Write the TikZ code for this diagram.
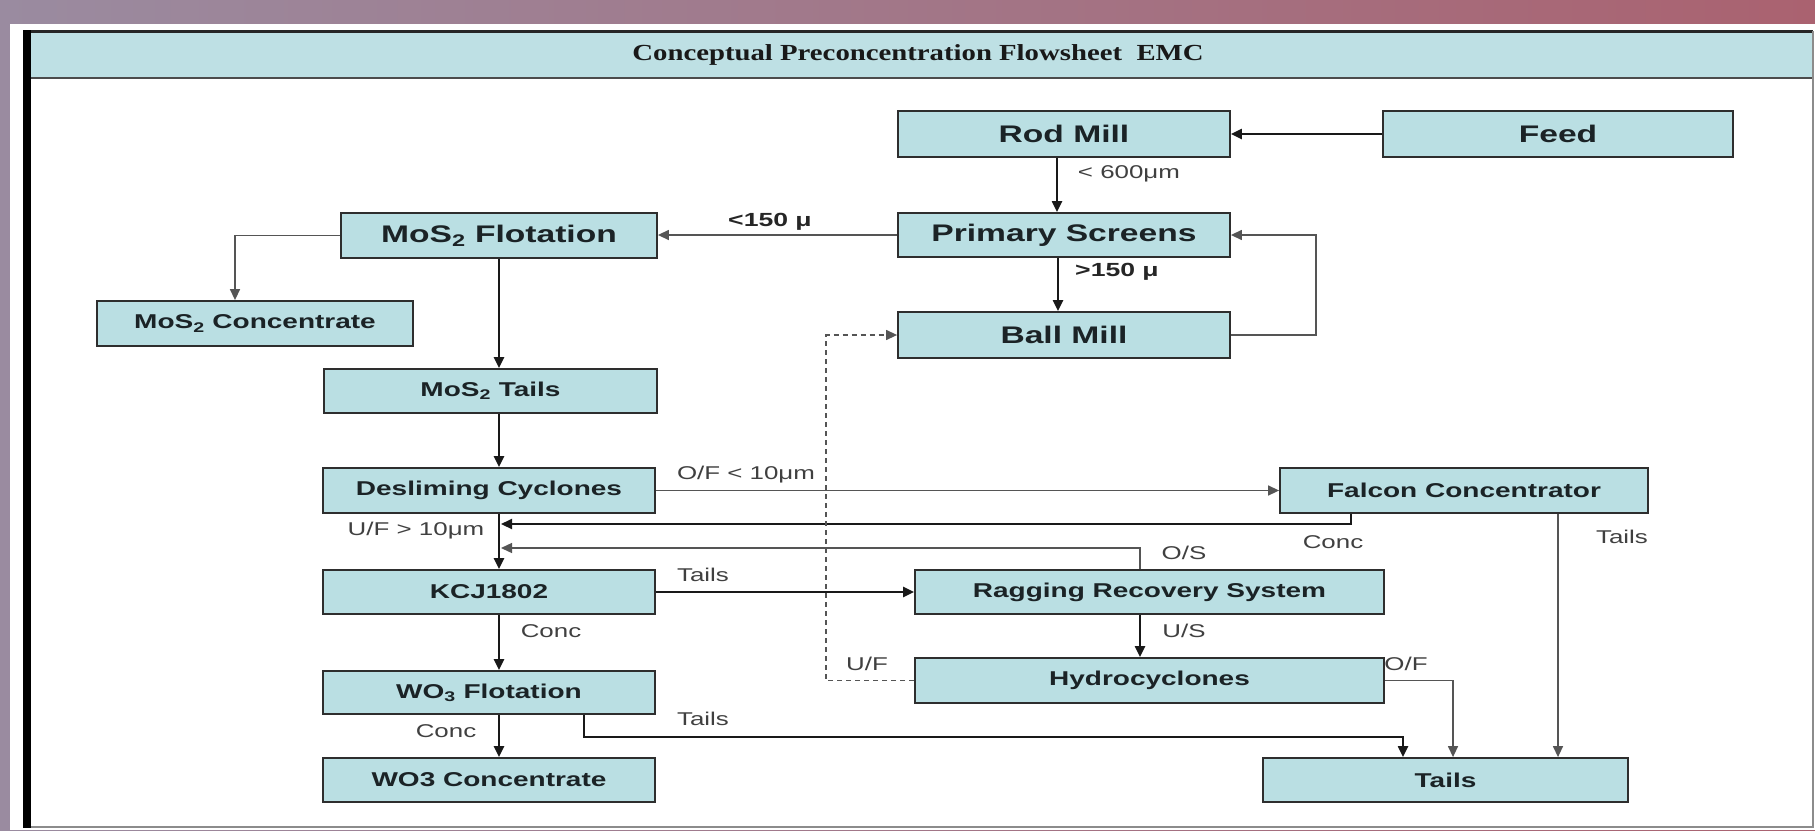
\documentclass[tikz,border=0pt]{standalone}
\usepackage{fontspec}
\usetikzlibrary{arrows.meta,calc}
\newfontfamily\bxf[FakeStretch=1.4]{Liberation Sans}
\newfontfamily\ttlf[FakeStretch=1.25]{Liberation Serif}
\definecolor{boxfill}{HTML}{BADFE3}
\definecolor{titlefill}{HTML}{BEE0E4}
\definecolor{bgleft}{RGB}{154,139,160}
\definecolor{bgright}{RGB}{170,98,112}
\definecolor{boxline}{HTML}{2E2E2E}
\definecolor{thinline}{HTML}{555555}
\definecolor{lbl}{HTML}{404040}
\definecolor{boxtext}{HTML}{1B2326}
\begin{document}
\begin{tikzpicture}[x=1pt,y=-1pt,
  box/.style={draw=boxline, line width=1.8pt, fill=boxfill, inner sep=0pt, text=boxtext},
  big/.style={box, font=\bxf\bfseries\fontsize{24}{28}\selectfont},
  small/.style={box, font=\bxf\bfseries\fontsize{20}{24}\selectfont},
  lab/.style={font=\bxf\fontsize{18.5}{22}\selectfont, text=lbl, inner sep=0pt},
  blab/.style={font=\bxf\bfseries\fontsize{19}{22}\selectfont, text=black!85, inner sep=0pt},
  flow/.style={line width=2.2pt, draw=black!90, -{Triangle[length=11pt,width=10pt]}},
  thinflow/.style={line width=1.4pt, draw=thinline, -{Triangle[length=11pt,width=10pt]}},
  dashflow/.style={line width=1.3pt, draw=thinline, dash pattern=on 5pt off 4pt, -{Triangle[length=11pt,width=10pt]}}
]
\useasboundingbox (0,0) rectangle (1815,830);
% background
\shade[left color=bgleft, right color=bgright] (0,0) rectangle (1815,830);
\fill[white] (10,24) rectangle (1815,830);
\fill[titlefill] (23,31) rectangle (1813,78);
\draw[line width=3pt, black!85] (23,31) -- (1813,31);
\draw[line width=2pt, black!70] (23,78) -- (1813,78);
\draw[line width=1.2pt, black!45] (1813,31) -- (1813,827) -- (31,827);
\fill[black] (23,30) rectangle (31,828);
\node[font=\ttlf\bfseries\fontsize{23}{26}\selectfont, text=black!90] (title) at (918,55) {Conceptual Preconcentration Flowsheet\ \ EMC};

% boxes
\node[big, minimum width=332pt, minimum height=46pt] (rod) at (1064,134) {Rod Mill};
\node[big, minimum width=350pt, minimum height=46pt] (feed) at (1558,134) {Feed};
\node[big, minimum width=332pt, minimum height=44pt] (ps) at (1064,235) {Primary Screens};
\node[big, minimum width=332pt, minimum height=46pt] (bm) at (1064,335) {Ball Mill};
\node[big, minimum width=316pt, minimum height=45pt] (mos2f) at (499,235.5) {MoS\textsubscript{2} Flotation};
\node[small, minimum width=316pt, minimum height=45pt] (mos2c) at (255,323.5) {MoS\textsubscript{2} Concentrate};
\node[small, minimum width=333pt, minimum height=44pt] (mos2t) at (490.5,391) {MoS\textsubscript{2} Tails};
\node[small, minimum width=332pt, minimum height=45pt] (desl) at (489,490.5) {Desliming Cyclones};
\node[small, minimum width=368pt, minimum height=45pt] (falcon) at (1464,490.5) {Falcon Concentrator};
\node[small, minimum width=332pt, minimum height=44pt] (kcj) at (489,592) {KCJ1802};
\node[small, minimum width=469pt, minimum height=44pt] (rag) at (1149.5,592) {Ragging Recovery System};
\node[small, minimum width=332pt, minimum height=43pt] (wo3f) at (489,692.5) {WO\textsubscript{3} Flotation};
\node[small, minimum width=469pt, minimum height=45pt] (hydro) at (1149.5,680.5) {Hydrocyclones};
\node[small, minimum width=332pt, minimum height=44pt] (wo3c) at (489,780) {WO3 Concentrate};
\node[small, minimum width=365pt, minimum height=44pt] (tails) at (1445.5,780) {Tails};

\coordinate (cx) at (499,0);
\coordinate (j1) at (501,524);
\coordinate (j2) at (501,548);

% connectors
\draw[flow] (feed.west) -- (rod.east);
\draw[flow] ([xshift=-7pt]rod.south) -- ([xshift=-7pt]ps.north);
\draw[thinflow] (ps.west) -- (ps.west -| mos2f.east);
\draw[flow] ([xshift=-6pt]ps.south) -- ([xshift=-6pt]bm.north);
\draw[thinflow] (bm.east) -- ++(85,0) |- (ps.east);
\draw[thinflow] (mos2f.west) -| ([xshift=-20pt]mos2c.north);
\draw[flow] (mos2f.south) -- (mos2f.south |- mos2t.north);
\draw[flow] (mos2t.south -| cx) -- (desl.north -| cx);
\draw[thinflow] (desl.east) -- (desl.east -| falcon.west);
\draw[flow] ([xshift=-113pt]falcon.south) |- (j1);
\draw[thinflow] ([xshift=-9.5pt]rag.north) |- (j2);
\draw[flow] (desl.south -| cx) -- (kcj.north -| cx);
\draw[flow] (kcj.east) -- (kcj.east -| rag.west);
\draw[flow] ([xshift=-9.5pt]rag.south) -- ([xshift=-9.5pt]hydro.north);
\draw[flow] (kcj.south -| cx) -- (wo3f.north -| cx);
\draw[flow] (wo3f.south -| cx) -- (wo3c.north -| cx);
\draw[flow] ([xshift=95pt]wo3f.south) -- ++(0,22) -| ([xshift=-42.5pt]tails.north);
\draw[thinflow] (hydro.east) -| ([xshift=7.5pt]tails.north);
\draw[thinflow] ([xshift=94pt]falcon.south) -- ([xshift=112.5pt]tails.north);
\draw[dashflow] (hydro.west) -- ++(-88,0) |- (bm.west);

% labels
\node[lab] (l600) at (1129,174) {< 600μm};
\node[blab] (l150a) at (770,222) {<150 μ};
\node[blab] (l150b) at (1117,272) {>150 μ};
\node[lab] (lof10) at (746,475) {O/F < 10μm};
\node[lab] (luf10) at (416,531) {U/F > 10μm};
\node[lab] (ltk) at (703,575) {Tails};
\node[lab] (lck) at (551,631) {Conc};
\node[lab] (lcw) at (446,731) {Conc};
\node[lab] (ltw) at (703,719) {Tails};
\node[lab] (lcf) at (1333,542) {Conc};
\node[lab] (ltf) at (1622,537) {Tails};
\node[lab] (los) at (1184,553) {O/S};
\node[lab] (lus) at (1184,631) {U/S};
\node[lab] (luf) at (867,664) {U/F};
\node[lab] (lofh) at (1406,664) {O/F};
\end{tikzpicture}
\end{document}
